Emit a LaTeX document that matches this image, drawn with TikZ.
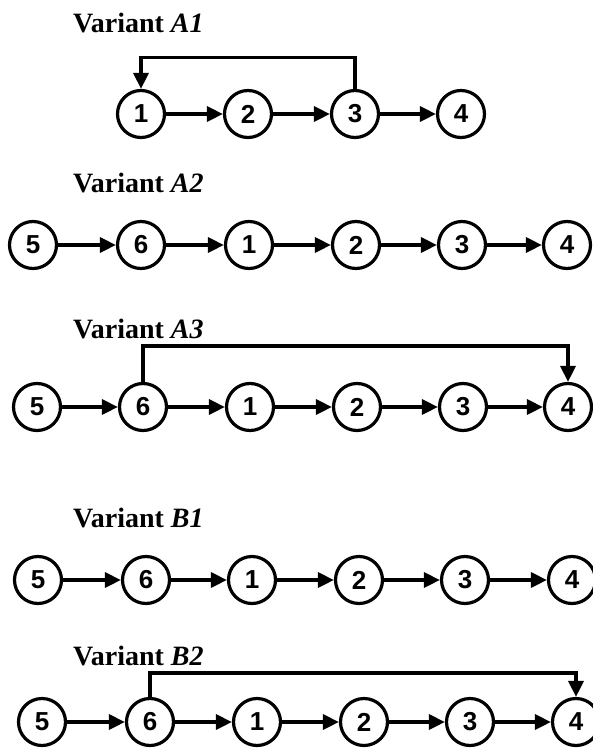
\documentclass[tikz,border=0pt]{standalone}
\usepackage{fontspec}
\setmainfont{Liberation Serif}
\newfontfamily\digitfont{Liberation Sans}
\usetikzlibrary{arrows.meta}
\tikzset{
  x=1pt, y=-1pt,
  st/.style={circle, draw=black, line width=3.2pt, minimum size=47pt, inner sep=0pt,
    font=\digitfont\bfseries\fontsize{26}{26}\selectfont},
  arr/.style={line width=3.2pt, -{Triangle[length=16pt,width=15pt]}},
  loopline/.style={line width=3.2pt, -{Triangle[length=16pt,width=15pt]}},
  ttl/.style={anchor=base west, inner sep=0pt, font=\bfseries\fontsize{28}{28}\selectfont}
}
\begin{document}
\begin{tikzpicture}
\useasboundingbox (0,0) rectangle (593,749);
% A1
\node[ttl] (tA1) at (73,33) {Variant \textit{A1}};
\foreach \n/\x in {1/141,2/248,3/355,4/461}{\node[st] (a1\n) at (\x,114) {\n};}
\draw[arr] (a11) -- (a12);
\draw[arr] (a12) -- (a13);
\draw[arr] (a13) -- (a14);
\draw[loopline] (a13.north) -- ++(0,-31) -| (a11.north);
% A2
\node[ttl] (tA2) at (73,192) {Variant \textit{A2}};
\foreach \n/\x in {5/33,6/141,1/249,2/356,3/462,4/567}{\node[st] (a2\n) at (\x,245) {\n};}
\draw[arr] (a25) -- (a26);
\draw[arr] (a26) -- (a21);
\draw[arr] (a21) -- (a22);
\draw[arr] (a22) -- (a23);
\draw[arr] (a23) -- (a24);
% A3
\node[ttl] (tA3) at (73,338) {Variant \textit{A3}};
\foreach \n/\x in {5/37,6/143,1/250,2/357,3/463,4/568}{\node[st] (a3\n) at (\x,407) {\n};}
\draw[arr] (a35) -- (a36);
\draw[arr] (a36) -- (a31);
\draw[arr] (a31) -- (a32);
\draw[arr] (a32) -- (a33);
\draw[arr] (a33) -- (a34);
\draw[loopline] (a36.north) -- ++(0,-36) -| (a34.north);
% B1
\node[ttl] (tB1) at (73,527) {Variant \textit{B1}};
\foreach \n/\x in {5/38,6/146,1/252,2/359,3/465,4/572}{\node[st] (b1\n) at (\x,580) {\n};}
\draw[arr] (b15) -- (b16);
\draw[arr] (b16) -- (b11);
\draw[arr] (b11) -- (b12);
\draw[arr] (b12) -- (b13);
\draw[arr] (b13) -- (b14);
% B2
\node[ttl] (tB2) at (73,665) {Variant \textit{B2}};
\foreach \n/\x in {5/42,6/150,1/257,2/364,3/470,4/576}{\node[st] (b2\n) at (\x,722) {\n};}
\draw[arr] (b25) -- (b26);
\draw[arr] (b26) -- (b21);
\draw[arr] (b21) -- (b22);
\draw[arr] (b22) -- (b23);
\draw[arr] (b23) -- (b24);
\draw[loopline] (b26.north) -- ++(0,-24) -| (b24.north);
\end{tikzpicture}
\end{document}
